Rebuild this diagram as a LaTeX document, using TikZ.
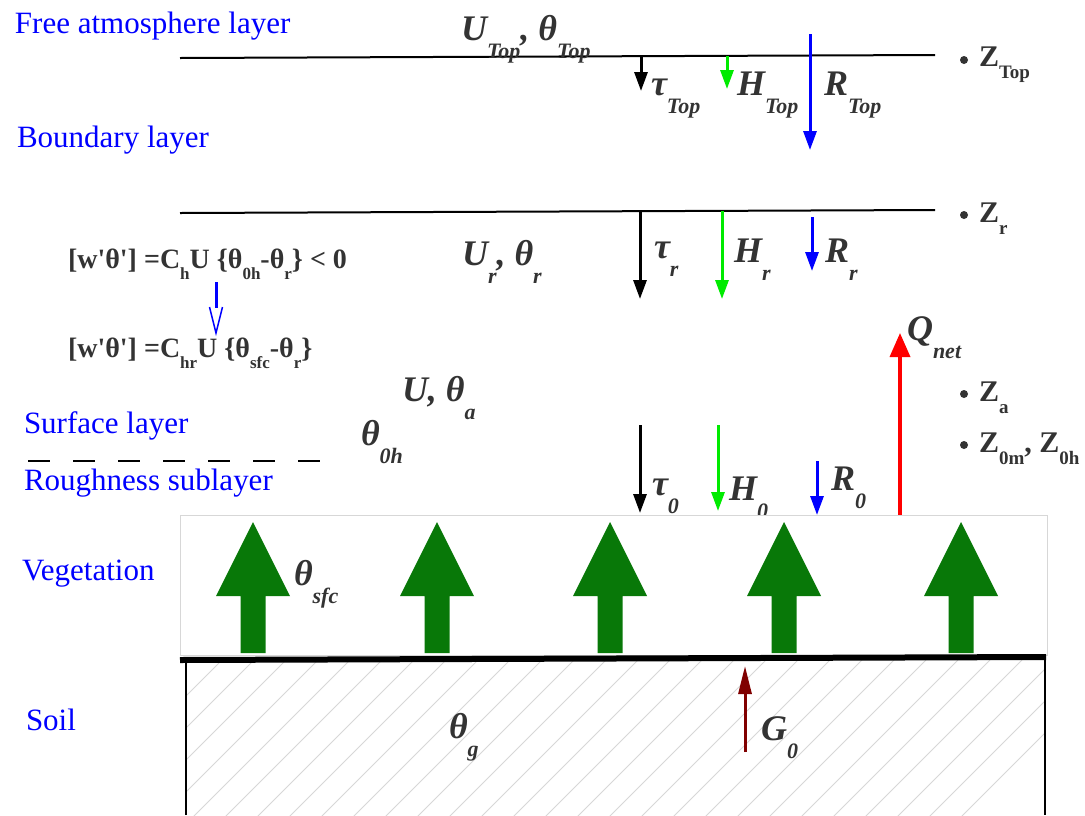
\documentclass[tikz,border=0pt]{standalone}
\usepackage{fontspec}
\setmainfont{Liberation Serif}
\usetikzlibrary{arrows.meta}
\definecolor{labelgray}{RGB}{51,51,51}
\definecolor{layerblue}{RGB}{0,0,255}
\definecolor{fluxgreen}{RGB}{0,235,0}
\definecolor{vegegreen}{RGB}{8,120,8}
\definecolor{soilred}{RGB}{128,0,0}
\definecolor{hatchgray}{RGB}{215,215,215}
% subscripts as the picture sets them: small and well below the baseline
\newcommand{\vsub}[1]{\raisebox{-.5em}{\fontsize{22}{24}\selectfont #1}}
\newcommand{\zsub}[1]{\raisebox{-.42em}{\fontsize{19}{20}\selectfont #1}}
\newcommand{\fsub}[1]{\raisebox{-.4em}{\fontsize{17}{18}\selectfont #1}}
\tikzset{
  layerlbl/.style={inner sep=0pt,outer sep=0pt,anchor=base west,text=layerblue,font=\fontsize{31}{34}\selectfont},
  varlbl/.style={inner sep=0pt,outer sep=0pt,anchor=base west,text=labelgray,font=\bfseries\itshape\fontsize{36}{38}\selectfont},
  heightlbl/.style={inner sep=0pt,outer sep=0pt,anchor=base west,text=labelgray,font=\bfseries\fontsize{30}{32}\selectfont},
  fluxform/.style={inner sep=0pt,outer sep=0pt,anchor=base west,text=labelgray,font=\bfseries\fontsize{28}{30}\selectfont},
  levdot/.style={circle,fill=labelgray,inner sep=0pt,minimum size=8pt},
  flux/.style={line width=3pt,-{Triangle[length=19pt,width=13pt]}},
  hatchline/.style={draw=hatchgray,line width=0.8pt}
}
\begin{document}
\begin{tikzpicture}[x=1pt,y=-1pt]
\path[use as bounding box,fill=white] (0,0) rectangle (1085,815);
% layer names
\node[layerlbl] (freeatm) at (15,33) {Free atmosphere layer};
\node[layerlbl] (boundary) at (17,147) {Boundary layer};
\node[layerlbl] (surface) at (24,433) {Surface layer};
\node[layerlbl] (rough) at (24,490) {Roughness sublayer};
\node[layerlbl] (vege) at (22,580) {Vegetation};
\node[layerlbl] (soil) at (26,730) {Soil};
% interfaces
\draw[line width=2pt] (180,58) -- (935,55);
\draw[line width=2pt] (180,213) -- (935,210);
\draw[line width=2pt,dash pattern=on 22pt off 23pt] (28,461) -- (322,461);
% top of the boundary layer
\node[varlbl] (uTop) at (461,40) {U\vsub{Top}, θ\vsub{Top}};
\coordinate (tauTopS) at (641,57);  \coordinate (tauTopE) at (641,91);
\coordinate (hTopS) at (727,56);    \coordinate (hTopE) at (727,89);
\coordinate (rTopS) at (810,34);    \coordinate (rTopE) at (810,150);
\draw[flux] (tauTopS) -- (tauTopE);
\draw[flux,fluxgreen] (hTopS) -- (hTopE);
\draw[flux,layerblue] (rTopS) -- (rTopE);
\node[varlbl] (tauTop) at (651,95) {τ\vsub{Top}};
\node[varlbl] (hTop) at (737,95) {H\vsub{Top}};
\node[varlbl] (rTop) at (824,95) {R\vsub{Top}};
% reference level
\node[varlbl] (uR) at (462,265) {U\vsub{r}, θ\vsub{r}};
\coordinate (tauRS) at (640,212);  \coordinate (tauRE) at (640,299);
\coordinate (hRS) at (722,211);    \coordinate (hRE) at (722,299);
\coordinate (rRS) at (812,217);    \coordinate (rRE) at (812,271);
\draw[flux] (tauRS) -- (tauRE);
\draw[flux,fluxgreen] (hRS) -- (hRE);
\draw[flux,layerblue] (rRS) -- (rRE);
\node[varlbl] (tauR) at (654,258) {τ\vsub{r}};
\node[varlbl] (hR) at (734,262) {H\vsub{r}};
\node[varlbl] (rR) at (825,262) {R\vsub{r}};
% heat flux formulas
\node[fluxform] (wthetaA) at (68,268) {[w\textquotesingle θ\textquotesingle] =C\fsub{h}U \{θ\fsub{0h}-θ\fsub{r}\} < 0};
\node[fluxform] (wthetaB) at (68,357) {[w\textquotesingle θ\textquotesingle] =C\fsub{hr}U \{θ\fsub{sfc}-θ\fsub{r}\}};
\coordinate (derivS) at (216,282); \coordinate (derivE) at (216,333);
\draw[layerblue,line width=3pt] (derivS) -- ++(0,26);
\draw[layerblue,line width=1.5pt,line join=miter] (derivE) ++(-6.5,-26) -- (derivE) -- ++(6.5,-26);
% surface layer
\node[varlbl] (uA) at (402,401) {U, θ\vsub{a}};
\node[varlbl] (theta0h) at (361,445) {θ\vsub{0h}};
\coordinate (qNetS) at (900,515); \coordinate (qNetE) at (900,333);
\draw[line width=3.5pt,red,-{Triangle[length=24pt,width=20pt]}] (qNetS) -- (qNetE);
\node[varlbl] (qNet) at (907,340) {Q\vsub{net}};
\coordinate (tau0S) at (640,425); \coordinate (tau0E) at (640,513);
\coordinate (h0S) at (718,425);   \coordinate (h0E) at (718,511);
\coordinate (r0S) at (817,461);   \coordinate (r0E) at (817,515);
\draw[flux] (tau0S) -- (tau0E);
\draw[flux,fluxgreen] (h0S) -- (h0E);
\draw[flux,layerblue] (r0S) -- (r0E);
\node[varlbl] (tau0) at (652,495) {τ\vsub{0}};
\node[varlbl] (h0) at (729,500) {H\vsub{0}};
\node[varlbl] (r0) at (831,490) {R\vsub{0}};
% heights
\node[levdot] (dotTop) at (964,60) {};
\node[heightlbl] (zTop) at (979,66) {Z\zsub{Top}};
\node[levdot] (dotR) at (964,215) {};
\node[heightlbl] (zR) at (979,222) {Z\zsub{r}};
\node[levdot] (dotA) at (964,394) {};
\node[heightlbl] (zA) at (979,401) {Z\zsub{a}};
\node[levdot] (dot0) at (964,445) {};
\node[heightlbl] (z0) at (979,452) {Z\zsub{0m}, Z\zsub{0h}};
% vegetation
\draw[draw=hatchgray,fill=white,line width=1pt] (180,515) rectangle (1047,655);
\foreach \vx in {253,437,610,784,961}
  \fill[vegegreen] (\vx,522) -- (\vx+37,596) -- (\vx+12.5,596) -- (\vx+12.5,653)
    -- (\vx-12.5,653) -- (\vx-12.5,596) -- (\vx-37,596) -- cycle;
\node[varlbl] (thetaSfc) at (294,585) {θ\vsub{sfc}};
% soil
\begin{scope}
  \clip (186,660) rectangle (1045,815);
  \foreach \hx in {0,...,34}
    \draw[hatchline] (30+\hx*32,660) -- ++(-160,160);
\end{scope}
\draw[line width=2.5pt] (186,815) -- (186,660);
\draw[line width=2.5pt] (1045,660) -- (1045,815);
\draw[line width=6pt] (180,660) -- (1046,657);
\node[varlbl] (thetaG) at (449,738) {θ\vsub{g}};
\coordinate (g0S) at (745,752); \coordinate (g0E) at (745,666);
\draw[line width=3pt,soilred,-{Triangle[length=28pt,width=13pt]}] (g0S) -- (g0E);
\node[varlbl] (g0) at (761,740) {G\vsub{0}};
\end{tikzpicture}
\end{document}
